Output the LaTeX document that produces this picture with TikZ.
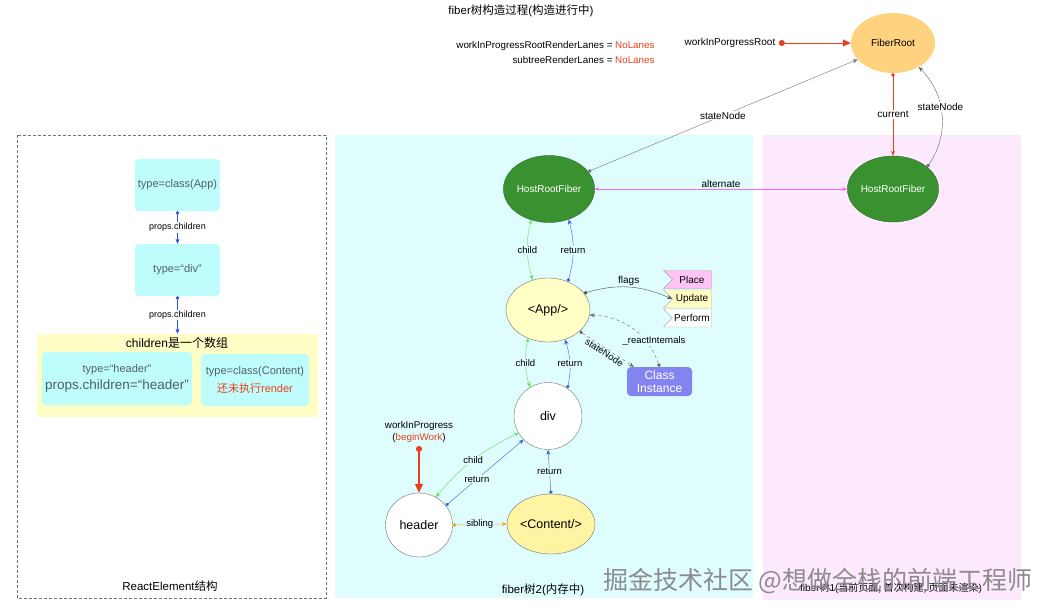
\documentclass[tikz,border=0pt]{standalone}
\usepackage{fontspec}
\setmainfont{Liberation Sans}
\newfontfamily\cjk{Noto Sans CJK SC}
\usetikzlibrary{arrows.meta,shapes.geometric,shapes.symbols}
\newcommand\fsz[1]{\fontsize{#1}{#1}\selectfont}
\definecolor{cyanbg}{HTML}{DFFDFD}
\definecolor{pinkbg}{HTML}{FDE9FD}
\definecolor{elcyan}{HTML}{BFFCFC}
\definecolor{eltext}{HTML}{4F5F6A}
\definecolor{elyellow}{HTML}{FFFDC6}
\definecolor{elblue}{HTML}{3050E0}
\definecolor{lanered}{HTML}{E8401C}
\definecolor{rootorange}{HTML}{FFD27F}
\definecolor{fibgreen}{HTML}{3A9130}
\definecolor{fibgreendark}{HTML}{2C6E25}
\definecolor{appyellow}{HTML}{FFFFC6}
\definecolor{cntyellow}{HTML}{FFF4A3}
\definecolor{childgreen}{HTML}{5EE05E}
\definecolor{retblue}{HTML}{3A5EE0}
\definecolor{altpink}{HTML}{F06CF0}
\definecolor{sibor}{HTML}{F0A030}
\definecolor{clsblue}{HTML}{8484F0}
\definecolor{tagpink}{HTML}{FFC3F6}
\definecolor{tagyellow}{HTML}{FFFDC3}
\begin{document}
\begin{tikzpicture}[x=1pt,y=-1pt,
  lbl/.style={font=\fsz{9.5}, text=black, inner sep=1pt},
  dotarrow/.style={{Circle[length=3.5pt]}-{Stealth[length=5pt,width=4pt]}},
  twoarrow/.style={{Stealth[length=4pt,width=3.5pt]}-{Stealth[length=5pt,width=4pt]}},
  elbox/.style={rounded corners=4pt, fill=elcyan, text=eltext, align=center, inner sep=0pt, font=\fsz{11}},
  hostfib/.style={ellipse, fill=fibgreen, draw=fibgreendark, text=white, minimum width=84, minimum height=67, inner sep=0pt, font=\fsz{10}},
  fib/.style={ellipse, draw=black!55, inner sep=0pt, font=\fsz{12.5}},
  tag/.style={signal, signal from=west, signal to=nowhere, fill=#1, minimum width=48, minimum height=18, inner sep=1pt, font=\fsz{10}}]
\useasboundingbox (0,0) rectangle (1042,615);
\fill[white] (0,0) rectangle (1042,615);
% Fondos
\draw[black!55, dash pattern=on 3pt off 2pt] (17,135) rectangle (326,598);
\fill[cyanbg] (335,135) rectangle (753,598);
\fill[pinkbg] (763,135) rectangle (1021,600);
\node[font=\fsz{11.5}] (reltitle) at (170,586) {ReactElement{\cjk 结构}};
\node[font=\fsz{11.5}] (wiptitle) at (543,590) {fiber{\cjk 树}2({\cjk 内存中})};
\node[font=\fsz{10}] (curtitle) at (891,588) {fiber{\cjk 树}1({\cjk 当前页面, 首次构建, 页面未渲染})};
% Titulo
\node[font=\fsz{11.5}] (title) at (521,11) {fiber{\cjk 树构造过程}({\cjk 构造进行中})};
\node[anchor=east, font=\fsz{9.8}] (rootlanes) at (658,46) {workInProgressRootRenderLanes = \textcolor{lanered}{NoLanes}};
\node[anchor=east, font=\fsz{9.8}] (subtlanes) at (658,60) {subtreeRenderLanes = \textcolor{lanered}{NoLanes}};
% ReactElement
\node[elbox, minimum width=85, minimum height=52] (elapp) at (177.5,185) {type=class(App)};
\node[elbox, minimum width=85, minimum height=52] (eldiv) at (177.5,270) {type=“div”};
\node[fill=elyellow, minimum width=281, minimum height=83, inner sep=0pt] (elarr) at (177.5,375.5) {};
\node[font=\fsz{12}] (elarrtitle) at (177,343) {children{\cjk 是一个数组}};
\node[elbox, minimum width=150, minimum height=53] (elhdr) at (117,378.5) {type=“header”\\[4pt]{\fsz{13.5}props.children=“header”}};
\node[elbox, minimum width=108, minimum height=52] (elcnt) at (255,380) {type=class(Content)\\[6pt]\textcolor{lanered}{{\cjk 还未执行}render}};
\draw[elblue, dotarrow] (elapp) -- node[lbl, fill=white, font=\fsz{9}] {props.children} (eldiv);
\draw[elblue, dotarrow] (eldiv) -- node[lbl, fill=white, font=\fsz{9}] {props.children} (elarr);
% FiberRoot
\node[ellipse, fill=rootorange, minimum width=84, minimum height=60, inner sep=0pt, font=\fsz{10}] (froot) at (893,43) {FiberRoot};
\node[font=\fsz{10}] (wiproot) at (730,43) {workInPorgressRoot};
\draw[lanered, {Circle[length=6pt]}-{Triangle[length=8pt,width=7pt]}] (wiproot.east) -- (froot.west);
% Fibers
\node[hostfib] (hrfwip) at (549,189) {HostRootFiber};
\node[hostfib, minimum height=66] (hrfcur) at (893,189) {HostRootFiber};
\node[fib, fill=appyellow, minimum width=84, minimum height=64] (app) at (548,310) {<App/>};
\node[fib, fill=white, minimum width=68, minimum height=67] (div) at (548,416) {div};
\node[fib, fill=white, minimum width=67, minimum height=64] (hdr) at (419,525) {header};
\node[fib, fill=cntyellow, minimum width=88, minimum height=60] (cnt) at (551,524) {<Content/>};
\node[tag=tagpink, draw=black!35] (tagplace) at (692,279.5) {Place};
\node[tag=tagyellow, draw=black!30] (tagupdate) at (692,299) {Update};
\node[tag=white, draw=black!30] (tagperform) at (692,318) {Perform};
\node[rounded corners=4pt, fill=clsblue, text=white, align=center, minimum width=65, minimum height=29, inner sep=0pt, font=\fontsize{12}{13}\selectfont] (clsinst) at (659.5,381.5) {Class\\Instance};
\node[align=center, font=\fsz{9.8}] (wip) at (419,432) {workInProgress\\[2pt](\textcolor{lanered}{beginWork})};
% Conexiones
\draw[black!55, dotarrow] (hrfwip.24) -- node[lbl, fill=white, font=\fsz{10}] {stateNode} (froot.205);
\draw[lanered, dotarrow] (froot.south) -- node[lbl, fill=white, font=\fsz{10}] {current} (hrfcur.north);
\draw[black!60, dotarrow] (hrfcur.33) to[bend right=40] node[lbl, fill=white, font=\fsz{10}, pos=0.58] {stateNode} (froot.-43);
\draw[altpink, twoarrow] (hrfwip.east) -- node[lbl, above, font=\fsz{10}] {alternate} (hrfcur.west);
\draw[childgreen, twoarrow] (hrfwip.240) to[bend right=15] node[lbl, fill=cyanbg] {child} (app.117);
\draw[retblue, dotarrow] (app.55) to[bend right=15] node[lbl, fill=cyanbg] {return} (hrfwip.-57);
\draw[black!70, dotarrow] (app.25) to[bend left=20] node[lbl, above, font=\fsz{10}] {flags} (tagupdate.west);
\draw[black!60, dashed, dotarrow] (app.-34) -- node[lbl, sloped, below, inner sep=0.5pt, pos=0.5] {stateNode} ([xshift=7pt]clsinst.north west);
\draw[black!60, dashed, dotarrow] (clsinst.north) to[bend right=35] (app.-7);
\node[lbl, fill=cyanbg] (rilbl) at (654,341) {\_reactInternals};
\draw[childgreen, twoarrow] (app.235) to[bend right=15] node[lbl, fill=cyanbg] {child} (div.122);
\draw[retblue, dotarrow] (div.55) to[bend right=15] node[lbl, fill=cyanbg] {return} (app.-60);
\draw[childgreen, twoarrow] (div.210) to[bend right=12] node[lbl, fill=cyanbg] {child} (hdr.59);
\draw[retblue, dotarrow] (hdr.36) -- node[lbl, fill=cyanbg, pos=0.4] {return} (div.224);
\draw[retblue, dotarrow] (cnt.north) -- node[lbl, fill=cyanbg] {return} (div.south);
\draw[sibor, dotarrow] (hdr.east) -- node[lbl, fill=cyanbg] {sibling} (cnt.west);
\draw[lanered, line width=1.2pt, {Circle[length=6pt]}-{Triangle[length=9pt,width=8pt]}] (wip.south) -- (hdr.north);
% Marca de agua
\node[font=\cjk\fsz{25}, text=black!45] (wmark) at (818,581) {掘金技术社区 @想做全栈的前端工程师};
\end{tikzpicture}
\end{document}
